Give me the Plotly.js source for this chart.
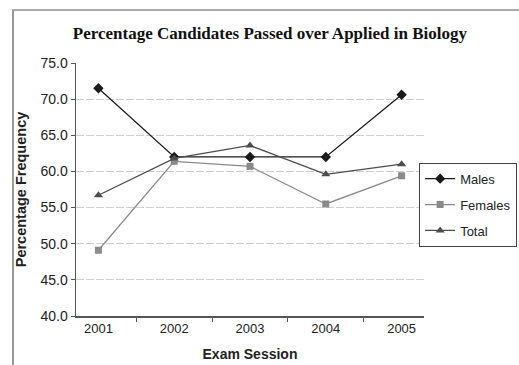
<!DOCTYPE html>
<html><head><meta charset="utf-8">
<script src="https://cdn.plot.ly/plotly-3.0.1.min.js"></script>
<style>
html,body{margin:0;padding:0;background:#fff;}
#frame{position:absolute;left:12px;top:9px;width:520px;height:380px;border-left:2px solid #999;border-top:2px solid #aaa;}
#chart{position:absolute;left:0;top:0;width:519px;height:365px;}
</style></head><body>
<div id="chart"></div>
<div id="frame"></div>
<script>
const sessions = ['2001','2002','2003','2004','2005'];
const males = [71.5, 62.0, 62.0, 62.0, 70.6];
const females = [49.1, 61.4, 60.7, 55.5, 59.4];
const total = [56.7, 61.8, 63.6, 59.6, 61.0];

const F = 'Liberation Sans, Arial, sans-serif';
const traces = [
  {x: sessions, y: males, name: 'Males', legendgroup:'a', mode: 'lines+markers', line:{color:'#1a1a1a', width:1.3}, marker:{symbol:'diamond', size:8, color:'#1a1a1a'}},
  {x: sessions, y: females, name: 'Females', legendgroup:'b', mode: 'lines+markers', line:{color:'#8a8a8a', width:1.3}, marker:{symbol:'square', size:7, color:'#8a8a8a'}},
  {x: sessions, y: total, name: 'Total', legendgroup:'c', mode: 'lines+markers', line:{color:'#4d4d4d', width:1.3}, marker:{symbol:'triangle-up', size:8, color:'#4d4d4d'}}
];
const layout = {
  width:519, height:365,
  margin:{l:76, r:95, t:63, b:49, autoexpand:false},
  paper_bgcolor:'rgba(0,0,0,0)', plot_bgcolor:'#fff',
  showlegend:true,
  title:{text:'<b>Percentage Candidates Passed over Applied in Biology</b>', font:{family:'Liberation Serif, Times New Roman, serif', size:17, color:'#111'}, x:0.52, xanchor:'center', y:0.91, yanchor:'middle'},
  xaxis:{type:'category', showgrid:false, showline:true, linecolor:'#555', linewidth:1.5, ticks:'outside', ticklen:4, tickcolor:'#555', tickson:'boundaries',
    tickfont:{family:F, size:13, color:'#222'},
    title:{text:'<b>Exam Session</b>', font:{family:F, size:14, color:'#222'}, standoff:14}},
  yaxis:{range:[40,75], dtick:5, tickformat:'.1f', showgrid:true, gridcolor:'#d0d0d0', gridwidth:1, griddash:'8px,2px', zeroline:false,
    showline:true, linecolor:'#555', linewidth:1.5, ticks:'outside', ticklen:4, tickcolor:'#555',
    tickfont:{family:F, size:14, color:'#222'},
    title:{text:'<b>Percentage Frequency</b>', font:{family:F, size:14.5, color:'#222'}, standoff:10}},
  legend:{x:0.986, xanchor:'left', y:0.44, yanchor:'middle', bordercolor:'#444', borderwidth:1, bgcolor:'#fff',
    font:{family:F, size:13, color:'#222'}, tracegroupgap:6, itemwidth:30}
};
Plotly.newPlot('chart', traces, layout, {displayModeBar:false, staticPlot:true});
</script>
</body></html>
